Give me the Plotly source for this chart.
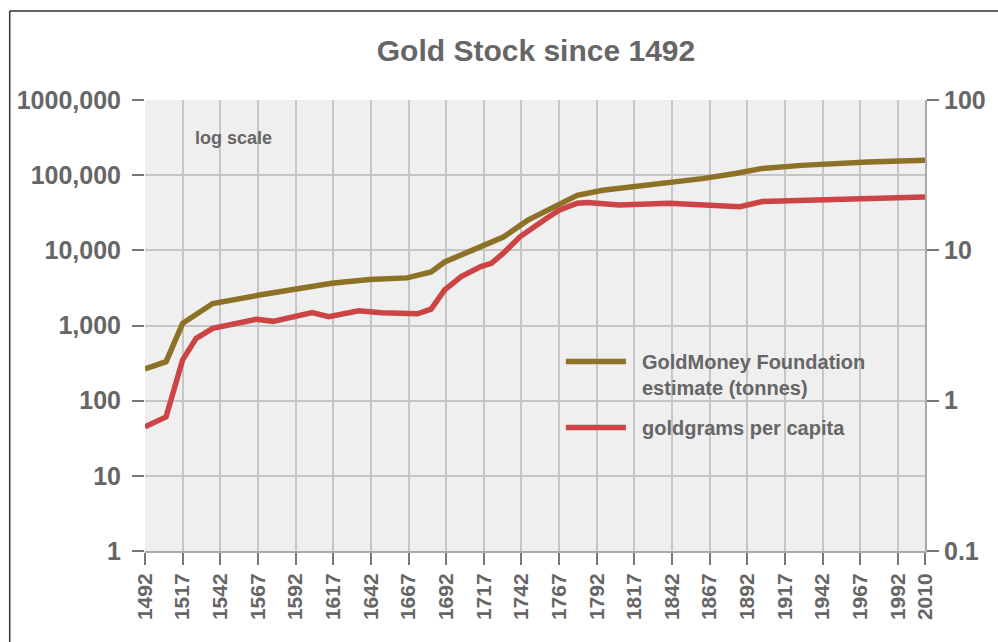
import plotly.graph_objects as go

# Gold stock (tonnes), left log axis
gold_years = [1492, 1506, 1517, 1537, 1567, 1592, 1616, 1641, 1666, 1682, 1691,
              1715, 1730, 1746, 1759, 1767, 1779, 1796, 1818, 1840, 1862, 1884,
              1902, 1928, 1950, 1972, 2010]
gold_tonnes = [265, 330, 1070, 1960, 2520, 3100, 3650, 4100, 4300, 5150, 7000,
               11200, 15000, 25000, 34000, 42000, 54000, 63000, 70000, 79000, 90000,
               105000, 123000, 135000, 145000, 150000, 158000]

# Goldgrams per capita, right log axis
pc_years = [1492, 1506, 1517, 1526, 1537, 1548, 1566, 1577, 1592, 1603, 1614, 1634,
            1649, 1666, 1673, 1682, 1691, 1702, 1715, 1722, 1730, 1741, 1752, 1759,
            1767, 1779, 1786, 1807, 1840, 1862, 1887, 1902, 1928, 1961, 2010]
pc_grams = [0.67, 0.78, 1.87, 2.6, 3.03, 3.2, 3.48, 3.37, 3.62, 3.85, 3.62, 3.96,
            3.85, 3.78, 3.78, 4.06, 5.45, 6.68, 7.8, 8.2, 9.57, 12.3, 14.8, 16.4,
            18.5, 20.6, 20.8, 20.0, 20.6, 20.0, 19.5, 21.1, 21.5, 22.2, 22.6]

x_ticks = [1492, 1517, 1542, 1567, 1592, 1617, 1642, 1667, 1692, 1717, 1742, 1767,
           1792, 1817, 1842, 1867, 1892, 1917, 1942, 1967, 1992, 2010]
left_ticks = [1, 10, 100, 1000, 10000, 100000, 1000000]
left_text = ["1", "10", "100", "1,000", "10,000", "100,000", "1000,000"]
right_ticks = [0.1, 1, 10, 100]
right_text = ["0.1", "1", "10", "100"]

GOLD = "#8d7127"
RED = "#cc4444"
TXT = "#666666"
FONT = "Liberation Sans, Arial, sans-serif"

fig = go.Figure()
fig.add_trace(go.Scatter(x=gold_years, y=gold_tonnes, mode="lines",
                         name="&nbsp;&nbsp;GoldMoney Foundation<br>&nbsp;&nbsp;estimate (tonnes)",
                         legendgroup="g1",
                         line=dict(color=GOLD, width=5.5), yaxis="y"))
fig.add_trace(go.Scatter(x=pc_years, y=pc_grams, mode="lines",
                         name="&nbsp;&nbsp;goldgrams per capita",
                         legendgroup="g2",
                         line=dict(color=RED, width=5.5), yaxis="y2"))

W, H = 998, 642
L, R, T, B = 145, 69, 100, 91
pw, ph = W - L - R, H - T - B


def px(x):
    return (x - L) / pw


def py(y):
    return (H - B - y) / ph


fig.update_layout(
    width=W, height=H,
    margin=dict(l=L, r=R, t=T, b=B),
    paper_bgcolor="white",
    plot_bgcolor="#efefef",
    font=dict(family=FONT, color=TXT),
    title=dict(text="<b>Gold Stock since 1492</b>", x=(375 + 697) / 2 / W,
               xanchor="center", y=1 - 50 / H, yanchor="middle",
               font=dict(size=30, color=TXT, family=FONT)),
    xaxis=dict(range=[1492, 2010], tickvals=x_ticks, tickangle=-90,
               tickfont=dict(size=21, color=TXT, family=FONT, weight="bold"),
               showgrid=True, gridcolor="#c6c6c6", gridwidth=1.5,
               ticks="outside", ticklen=12, tickwidth=2, tickcolor="#777777",
               showline=True, linecolor="#aaaaaa", linewidth=2,
               zeroline=False, fixedrange=True),
    yaxis=dict(type="log", range=[0, 6], tickvals=left_ticks, ticktext=left_text,
               tickfont=dict(size=25, color=TXT, family=FONT, weight="bold"),
               showgrid=True, gridcolor="#c6c6c6", gridwidth=1.5,
               ticks="outside", ticklen=12, tickwidth=2, tickcolor="#777777",
               ticklabelstandoff=6,
               showline=False, zeroline=False),
    yaxis2=dict(type="log", range=[-1, 2], tickvals=right_ticks, ticktext=right_text,
                overlaying="y", side="right",
                tickfont=dict(size=25, color=TXT, family=FONT, weight="bold"),
                showgrid=False, ticks="outside", ticklen=12, tickwidth=2,
                tickcolor="#777777", showline=True, linecolor="#aaaaaa",
                linewidth=2, zeroline=False),
    showlegend=True,
    legend=dict(x=px(563), y=py(342), xanchor="left", yanchor="top",
                bgcolor="rgba(0,0,0,0)",
                font=dict(size=20, color=TXT, family=FONT, weight="bold"),
                tracegroupgap=11, itemwidth=60, valign="top"),
    annotations=[dict(text="<b>log scale</b>", x=px(234), y=py(138), xref="paper",
                      yref="paper", xanchor="center", yanchor="middle",
                      showarrow=False,
                      font=dict(size=18, color=TXT, family=FONT))],
    shapes=[
        dict(type="line", xref="paper", yref="paper", x0=px(9), x1=px(9),
             y0=py(11), y1=py(H + 5), line=dict(color="#333333", width=1.5)),
        dict(type="line", xref="paper", yref="paper", x0=px(9), x1=px(W + 5),
             y0=py(11), y1=py(11), line=dict(color="#333333", width=1.5)),
    ],
)

fig.write_html("out.html", config={"displayModeBar": False},
               post_script="document.body.style.margin='0';")
